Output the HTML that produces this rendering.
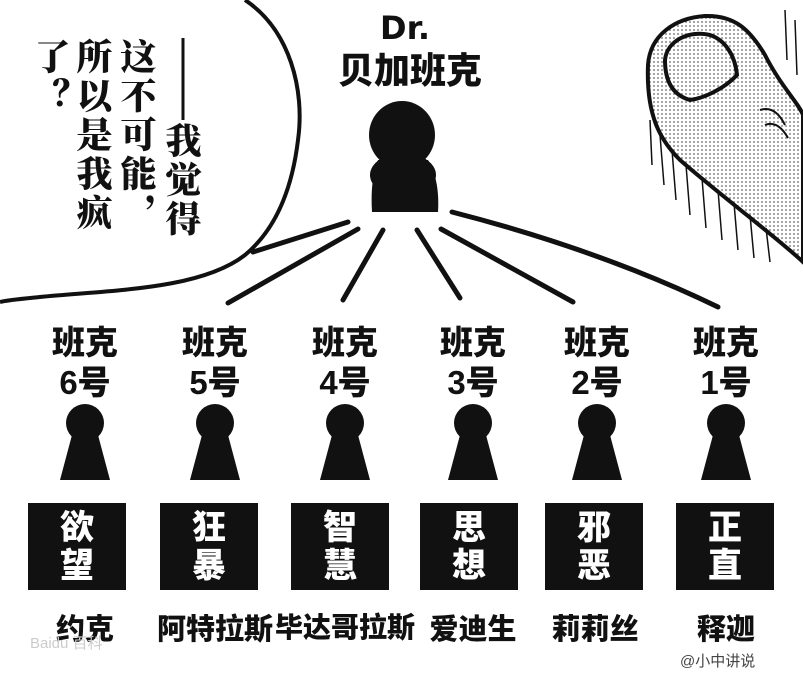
<!DOCTYPE html>
<html><head><meta charset="utf-8"><style>
html,body{margin:0;padding:0;background:#fff}
body{width:803px;height:689px;position:relative;overflow:hidden;font-family:"Liberation Sans","Noto Sans CJK SC",sans-serif}
.t{position:absolute;font-weight:900;color:#111;text-align:center;line-height:1.05}
.v{position:absolute;writing-mode:vertical-rl;font-family:"Liberation Serif","Noto Serif CJK SC",serif;font-weight:900;font-size:36px;color:#111;line-height:1;letter-spacing:3px}
.box{position:absolute;top:503px;width:98px;height:87px;background:#111;color:#fff;font-weight:900;font-size:34px;line-height:38px;text-align:center;padding-top:6px;box-sizing:border-box}
.lab{position:absolute;top:323px;width:100px;text-align:center;font-weight:900;font-size:33px;line-height:40px;color:#111}
.nm{position:absolute;top:606px;width:130px;text-align:center;font-weight:900;font-size:29px;color:#111}
</style></head><body>
<svg width="803" height="689" style="position:absolute;left:0;top:0">
<defs><pattern id="dots" width="4" height="4" patternUnits="userSpaceOnUse"><rect width="4" height="4" fill="#fff"/><circle cx="2" cy="2" r="0.9" fill="#666"/></pattern></defs>
<path d="M245 0 C290 30 305 90 298 140 C292 190 275 230 245 255 C200 290 110 290 40 297 C20 299 8 300 0 302" fill="none" stroke="#111" stroke-width="4"/>
<g stroke="#111" stroke-width="5" stroke-linecap="round" fill="none">
<path d="M348 222 L253 252"/>
<path d="M358 229 L228 303"/>
<path d="M383 230 L343 300"/>
<path d="M417 230 L460 298"/>
<path d="M441 229 L573 302"/>
<path d="M452 212 Q600 250 718 307"/>
</g>
<path d="M648 65 C650 35 675 18 705 16 C735 15 750 30 765 55 C780 85 800 105 803 115 L803 262 C780 240 720 195 680 160 C660 140 646 115 648 65 Z" fill="url(#dots)" stroke="#111" stroke-width="4"/>
<path d="M665 60 C667 40 690 30 710 35 C725 40 735 55 737 75 C725 88 705 98 690 100 C672 95 665 80 665 60 Z" fill="url(#dots)" stroke="#111" stroke-width="4"/>
<g stroke="#111" stroke-width="1.5"><path d="M650 120 L652 165 M660 135 L664 185 M672 150 L676 200 M686 165 L690 215 M702 178 L706 228 M718 190 L722 240 M734 203 L738 250 M750 215 L754 258 M766 228 L770 262 M785 10 L787 60 M795 20 L797 75"/></g>
<path d="M760 110 Q775 105 785 125 M765 125 Q778 120 788 138" stroke="#111" stroke-width="2" fill="none"/>
<ellipse cx="402" cy="135" rx="33" ry="34" fill="#111"/>
<path d="M378 160 Q370 180 372 212 L438 212 Q440 180 428 160 Z" fill="#111"/>
<ellipse cx="403" cy="175" rx="33" ry="22" fill="#111"/>
<g fill="#111">
<g transform="translate(85 0)"><circle cx="0" cy="423" r="19"/><path d="M-13 435 L-25 480 L25 480 L13 435 Z"/></g>
<g transform="translate(215 0)"><circle cx="0" cy="423" r="19"/><path d="M-13 435 L-25 480 L25 480 L13 435 Z"/></g>
<g transform="translate(345 0)"><circle cx="0" cy="423" r="19"/><path d="M-13 435 L-25 480 L25 480 L13 435 Z"/></g>
<g transform="translate(473 0)"><circle cx="0" cy="423" r="19"/><path d="M-13 435 L-25 480 L25 480 L13 435 Z"/></g>
<g transform="translate(597 0)"><circle cx="0" cy="423" r="19"/><path d="M-13 435 L-25 480 L25 480 L13 435 Z"/></g>
<g transform="translate(726 0)"><circle cx="0" cy="423" r="19"/><path d="M-13 435 L-25 480 L25 480 L13 435 Z"/></g>
</g>
<path d="M183 38 L183 120" stroke="#111" stroke-width="3"/>
</svg>
<div class="v" style="left:163px;top:122px">我觉得</div>
<div class="v" style="left:118px;top:38px">这不可能，</div>
<div class="v" style="left:74px;top:38px">所以是我疯</div>
<div class="v" style="left:32px;top:38px">了？</div>
<div class="t" style="left:360px;top:12px;width:90px;font-size:32px;font-family:'DejaVu Sans',sans-serif">Dr.</div>
<div class="t" style="left:330px;top:52px;width:160px;font-size:36px">贝加班克</div>
<div class="lab" style="left:35px">班克<br>6号</div>
<div class="lab" style="left:165px">班克<br>5号</div>
<div class="lab" style="left:295px">班克<br>4号</div>
<div class="lab" style="left:423px">班克<br>3号</div>
<div class="lab" style="left:547px">班克<br>2号</div>
<div class="lab" style="left:676px">班克<br>1号</div>
<div class="box" style="left:28px">欲<br>望</div>
<div class="box" style="left:160px">狂<br>暴</div>
<div class="box" style="left:291px">智<br>慧</div>
<div class="box" style="left:420px">思<br>想</div>
<div class="box" style="left:545px">邪<br>恶</div>
<div class="box" style="left:676px">正<br>直</div>
<div class="nm" style="left:20px">约克</div>
<div class="nm" style="left:150px">阿特拉斯</div>
<div class="nm" style="left:275px;width:140px;font-size:28px">毕达哥拉斯</div>
<div class="nm" style="left:408px">爱迪生</div>
<div class="nm" style="left:530px">莉莉丝</div>
<div class="nm" style="left:661px">释迦</div>
<div style="position:absolute;left:30px;top:632px;font-size:15px;color:#ccc">Baidu 百科</div>
<div style="position:absolute;left:680px;top:650px;font-size:15px;color:#444">@小中讲说</div>
</body></html>
